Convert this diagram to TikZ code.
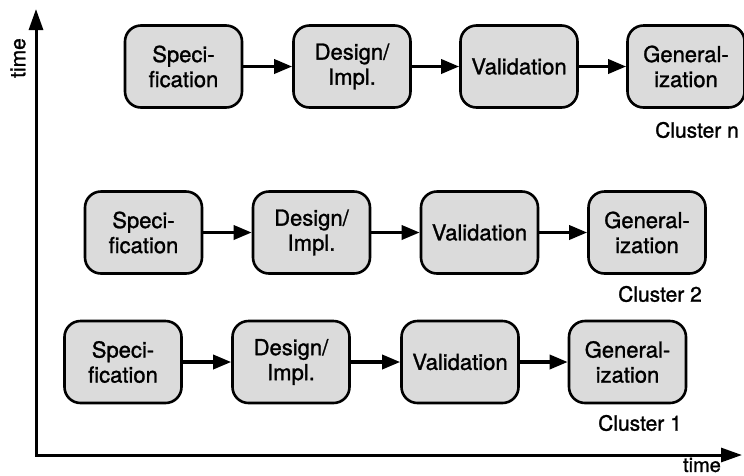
\documentclass[tikz,border=0pt]{standalone}
\usepackage{fontspec}
\setmainfont{TeX Gyre Heros}[FakeBold=1.2]
\newfontfamily\heavyfont{TeX Gyre Heros}[FakeBold=1.2]
\usetikzlibrary{arrows.meta}
\begin{document}
\begin{tikzpicture}[x=1pt,y=-1pt,
  stage/.style={draw, line width=2.6pt, rounded corners=16pt, fill=gray!28,
    minimum width=117pt, minimum height=82pt, align=center, inner sep=0pt,
    font=\heavyfont\fontsize{22}{25}\selectfont},
  flow/.style={line width=3.4pt, -{Triangle[length=18pt,width=14pt]}},
  axis/.style={line width=3pt, {Triangle[length=21pt,width=14pt]}-{Triangle[length=21pt,width=14pt]}},
  lbl/.style={font=\heavyfont\fontsize{21}{25}\selectfont, inner sep=0pt}]
\useasboundingbox (0,0) rectangle (744,475);
\clip (0,0) rectangle (744,475);

% time axes
\coordinate (ytop) at (36,9);
\coordinate (orig) at (36,455);
\coordinate (xend) at (742,455);
\draw[axis] (ytop) -- (orig) -- (xend);
\node[lbl, rotate=90] (tv) at (18,58) {time};
\node[lbl, font=\heavyfont\fontsize{20}{24}\selectfont] (th) at (702,465) {time};

% cluster n
\node[stage] (sn) at (183.5,66.5) {Speci-\\fication};
\node[stage] (dn) at (352,66.5) {Design/\\Impl.};
\node[stage] (vn) at (519,66.5) {Validation};
\node[stage] (gn) at (686,66.5) {General-\\ization};
\node[lbl, anchor=west] (cn) at (655,130) {Cluster n};

% cluster 2
\node[stage] (s2) at (143.5,232.5) {Speci-\\fication};
\node[stage] (d2) at (311.5,232.5) {Design/\\Impl.};
\node[stage] (v2) at (479.5,232.5) {Validation};
\node[stage] (g2) at (647,232.5) {General-\\ization};
\node[lbl] (c2) at (660,294) {Cluster 2};

% cluster 1
\node[stage] (s1) at (123,362) {Speci-\\fication};
\node[stage] (d1) at (291,362) {Design/\\Impl.};
\node[stage] (v1) at (460,362) {Validation};
\node[stage] (g1) at (627.5,362) {General-\\ization};
\node[lbl] (c1) at (640,423) {Cluster 1};

% process flow
\foreach \r in {n,2,1}{
  \draw[flow] (s\r) -- (d\r);
  \draw[flow] (d\r) -- (v\r);
  \draw[flow] (v\r) -- (g\r);
}
\end{tikzpicture}
\end{document}
